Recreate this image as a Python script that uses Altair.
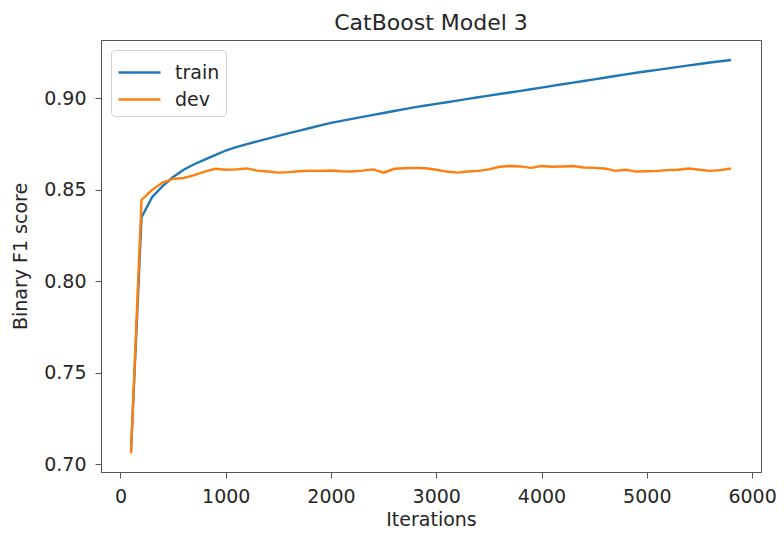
import altair as alt
import pandas as pd

iterations = list(range(100, 5900, 100))

train = [0.707, 0.835, 0.846, 0.852, 0.857, 0.861, 0.864, 0.8665, 0.869, 0.8715,
         0.8733, 0.875, 0.8765, 0.878, 0.8795, 0.881, 0.8824, 0.8838, 0.8852, 0.8866,
         0.8877, 0.8888, 0.8899, 0.891, 0.892, 0.8931, 0.8941, 0.8952, 0.8961, 0.897,
         0.8979, 0.8988, 0.8997, 0.9006, 0.9015, 0.9024, 0.9032, 0.9041, 0.905, 0.9059,
         0.9068, 0.9077, 0.9086, 0.9095, 0.9104, 0.9113, 0.9122, 0.9131, 0.914, 0.9148,
         0.9156, 0.9164, 0.9172, 0.918, 0.9188, 0.9196, 0.9203, 0.921]

dev = [0.706, 0.8445, 0.850, 0.854, 0.856, 0.8565, 0.858, 0.860, 0.8615, 0.861,
       0.8612, 0.8617, 0.8605, 0.860, 0.8594, 0.8597, 0.8602, 0.8605, 0.8604, 0.8606,
       0.8602, 0.860, 0.8605, 0.8612, 0.8594, 0.8615, 0.8618, 0.862, 0.8618, 0.861,
       0.860, 0.8594, 0.860, 0.8604, 0.8612, 0.8626, 0.863, 0.8628, 0.862, 0.863,
       0.8626, 0.8628, 0.863, 0.8622, 0.862, 0.8617, 0.8604, 0.861, 0.860, 0.8602,
       0.8604, 0.8608, 0.861, 0.8617, 0.861, 0.8604, 0.8608, 0.8617]

series_names = ["train", "dev"]
series_colors = ["#1f77b4", "#ff7f0e"]
x_ticks = [0, 1000, 2000, 3000, 4000, 5000, 6000]
y_ticks = [0.70, 0.75, 0.80, 0.85, 0.90]

df = pd.concat([
    pd.DataFrame({"Iterations": iterations, "score": train, "series": "train"}),
    pd.DataFrame({"Iterations": iterations, "score": dev, "series": "dev"}),
])

FONT = "DejaVu Sans"
TXT = "#262626"

chart = alt.Chart(df).mark_line(strokeWidth=2.4).encode(
    x=alt.X("Iterations:Q",
            scale=alt.Scale(domain=[-185, 6085], nice=False, zero=False),
            axis=alt.Axis(values=x_ticks, format="d", title="Iterations",
                          grid=False, tickSize=6, labelPadding=9, titlePadding=4)),
    y=alt.Y("score:Q",
            scale=alt.Scale(domain=[0.6958, 0.9319], nice=False, zero=False),
            axis=alt.Axis(values=y_ticks, format=".2f", title="Binary F1 score",
                          grid=False, tickSize=6, labelPadding=9, titlePadding=13)),
    color=alt.Color("series:N",
                    scale=alt.Scale(domain=series_names, range=series_colors),
                    legend=alt.Legend(title=None, orient="none", legendX=10, legendY=10,
                                      symbolType="M-1.0,0H1.8", symbolSize=900,
                                      symbolStrokeWidth=2.4, labelFontSize=19,
                                      labelFont=FONT, labelColor=TXT,
                                      rowPadding=0, padding=6, labelOffset=25,
                                      strokeColor="#d0d0d0", fillColor="white",
                                      cornerRadius=4)),
).properties(
    width=660,
    height=432,
    title=alt.TitleParams("CatBoost Model 3", fontSize=22, font=FONT,
                          fontWeight="normal", color=TXT, offset=5),
    autosize=alt.AutoSizeParams(type="none"),
    padding={"left": 93, "top": 32, "right": 15, "bottom": 57},
).configure_view(
    stroke="#555555", strokeWidth=1
).configure_axis(
    labelFont=FONT, titleFont=FONT, labelFontSize=19, titleFontSize=19,
    labelColor=TXT, titleColor=TXT, titleFontWeight="normal",
    domainColor="#555555", tickColor="#555555"
)

chart.save("out.html", embed_options={"renderer": "svg", "actions": False})
